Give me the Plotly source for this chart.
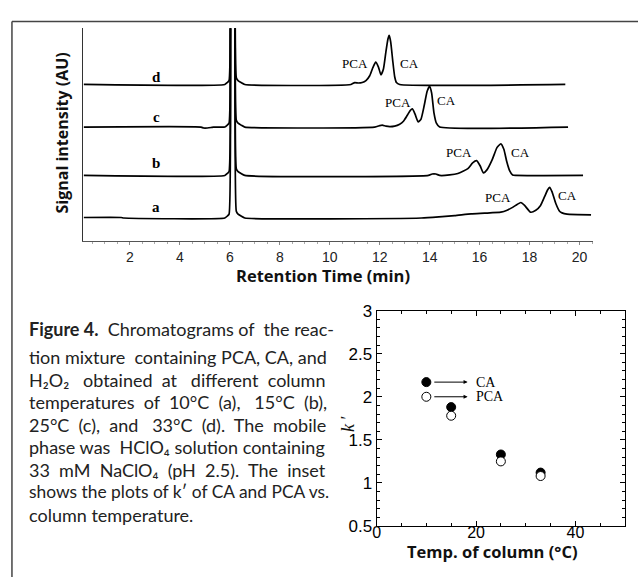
import plotly.graph_objects as go

W, H = 638, 587

# ---------------- data: chromatograms (retention time in min, signal in AU, offset stacked) ----
a_x = [0.15, 1.65, 1.75, 5.80, 5.90, 5.97, 6.03, 6.08, 6.16, 6.21, 6.26, 6.33, 6.45, 6.60,
       13.67, 14.5, 15.0, 15.66, 16.2, 16.85, 17.1, 17.32, 17.5, 17.65, 17.8, 18.04, 18.25,
       18.44, 18.6, 18.72, 18.8, 18.9, 19.05, 19.2, 19.3, 19.5, 20.46]
a_y = [23.5, 23.5, 23, 23, 25, 27, 250, 300, 300, 250, 30, 27, 25, 23,
       23, 24.5, 25.5, 27.3, 28, 29, 31, 34, 37, 39, 36, 29, 31,
       36, 45, 52, 54.7, 50, 38, 30, 28.3, 27, 26.3]

b_x = [0.15, 5.80, 5.90, 5.97, 6.03, 6.08, 6.16, 6.21, 6.26, 6.33, 6.45, 6.60,
       13.95, 14.1, 14.25, 14.4, 14.8, 15.13, 15.53, 15.72, 15.88, 16.02, 16.15, 16.3,
       16.5, 16.7, 16.85, 16.97, 17.08, 17.2, 17.32, 17.45, 20.14]
b_y = [67, 67, 69, 71, 250, 300, 300, 250, 74, 71, 69, 67,
       67, 68.5, 68.5, 67, 67.5, 69, 74, 80, 82.3, 77, 69.7, 73,
       83, 96, 99.7, 94, 82, 72, 67.5, 67, 67]

c_x = [0.15, 4.85, 4.95, 5.1, 5.25, 5.35, 5.80, 5.90, 5.97, 6.03, 6.08, 6.16, 6.21, 6.26,
       6.33, 6.45, 6.60, 11.8, 12.0, 12.1, 12.25, 12.4, 12.6, 12.8, 12.95, 13.1, 13.22,
       13.31, 13.42, 13.54, 13.65, 13.78, 13.9, 14.0, 14.08, 14.17, 14.27, 14.4, 19.54]
c_y = [117, 117, 116, 116, 116.5, 117, 117, 119, 121, 250, 300, 300, 250, 124,
       121, 119, 117, 117, 118.5, 119, 118, 117.5, 118, 120, 123, 129, 134,
       135.7, 130, 122.3, 125, 139, 154, 159, 152, 132, 121, 117, 117]

d_x = [0.15, 5.80, 5.90, 5.97, 6.03, 6.08, 6.16, 6.21, 6.26, 6.33, 6.45, 6.60,
       10.85, 11.0, 11.15, 11.3, 11.45, 11.6, 11.72, 11.84, 11.95, 12.05, 12.15, 12.25,
       12.33, 12.38, 12.44, 12.52, 12.6, 12.67, 12.8, 19.43]
d_y = [161, 161, 163, 165, 250, 300, 300, 250, 168, 165, 163, 161,
       161, 163, 162.5, 163, 165, 170, 178, 184, 179, 171, 177, 195,
       208, 211.7, 205, 186, 169, 163, 161, 161]

trace_names = ["a", "b", "c", "d"]
trace_label_x = [3.05, 3.05, 3.05, 3.05]
trace_label_y = [34, 80, 127, 169]

peak_labels = ["PCA", "CA", "PCA", "CA", "PCA", "CA", "PCA", "CA"]
peak_label_x = [16.72, 19.5, 15.18, 17.62, 12.74, 14.69, 11.0, 13.19]
peak_label_y = [44, 46, 91, 91, 142.5, 144, 182.5, 182.5]

x_ticks = [2, 4, 6, 8, 10, 12, 14, 16, 18, 20]

# ---------------- data: inset (k' vs column temperature) ----------------
temps = [10, 15, 25, 33]
k_ca = [2.17, 1.88, 1.33, 1.12]
k_pca = [2.00, 1.78, 1.25, 1.08]

caption_lines = [
    "<b>Figure 4.</b> Chromatograms of the reac-",
    "tion mixture containing PCA, CA, and",
    "H₂O₂ obtained at different column",
    "temperatures of 10°C (a), 15°C (b),",
    "25°C (c), and 33°C (d). The mobile",
    "phase was HClO₄ solution containing",
    "33 mM NaClO₄ (pH 2.5). The inset",
    "shows the plots of k′ of CA and PCA vs.",
    "column temperature.",
]
# extra non-breaking spaces per word gap (to imitate the justified text)
caption_extra = [
    [0, 1, 0, 1, 0],
    [0, 1, 0, 0, 0],
    [2, 1, 2, 1],
    [1, 1, 1, 2, 1],
    [1, 1, 2, 1, 1, 1],
    [0, 1, 0, 0],
    [1, 1, 1, 1, 1, 1],
    [0, 0, 0, 0, 0, 0, 0, 0],
    [0],
]
caption_sizes = [18, 18, 18, 18, 18, 18, 18, 17.4, 18]


def justify(line, extra):
    words = line.split(" ")
    out = words[0]
    for i, w in enumerate(words[1:]):
        n = extra[i] if i < len(extra) else 0
        out += " " + "\u00a0" * n + w
    return out


def px(x):
    return x / W


def py(y):
    return 1 - y / H


fig = go.Figure()

for nm, xs, ys in zip(trace_names, [a_x, b_x, c_x, d_x], [a_y, b_y, c_y, d_y]):
    fig.add_trace(go.Scatter(x=xs, y=ys, mode="lines", name=nm,
                             line=dict(color="black", width=1.7, shape="spline", smoothing=0.5),
                             xaxis="x", yaxis="y", showlegend=False, hoverinfo="skip"))

fig.add_trace(go.Scatter(x=temps, y=k_ca, mode="markers", name="CA",
                         marker=dict(size=9, color="black", line=dict(color="black", width=1)),
                         xaxis="x2", yaxis="y2", showlegend=False))
fig.add_trace(go.Scatter(x=temps, y=k_pca, mode="markers", name="PCA",
                         marker=dict(size=9, color="white", line=dict(color="black", width=1)),
                         xaxis="x2", yaxis="y2", showlegend=False))

ann = []
serif = "Liberation Serif, Times New Roman, serif"
sans = "Liberation Sans, Arial, sans-serif"
cap_font = "Lato, Open Sans, sans-serif"
title_font = "Open Sans, Lato, sans-serif"

for t, x, y in zip(trace_names, trace_label_x, trace_label_y):
    ann.append(dict(x=x, y=y, xref="x", yref="y", text="<b>%s</b>" % t, showarrow=False,
                    xanchor="center", yanchor="middle",
                    font=dict(family=serif, size=15, color="black")))
for t, x, y in zip(peak_labels, peak_label_x, peak_label_y):
    ann.append(dict(x=x, y=y, xref="x", yref="y", text=t, showarrow=False,
                    xanchor="center", yanchor="middle",
                    font=dict(family=serif, size=13, color="black")))

# axis titles for main chart
ann.append(dict(x=px(321), y=py(275), xref="paper", yref="paper", text="<b>Retention Time (min)</b>",
                showarrow=False, xanchor="center", yanchor="middle",
                font=dict(family=title_font, size=16.5, color="#111")))
ann.append(dict(x=px(58), y=py(128), xref="paper", yref="paper", text="<b>Signal intensity (AU)</b>",
                showarrow=False, textangle=-90, xanchor="center", yanchor="middle",
                font=dict(family=title_font, size=16, color="#111")))

# inset titles
ann.append(dict(x=px(492), y=py(561), xref="paper", yref="paper", text="<b>Temp. of column (°C)</b>",
                showarrow=False, xanchor="center", yanchor="middle",
                font=dict(family=title_font, size=16.5, color="#111")))
ann.append(dict(x=px(346), y=py(428), xref="paper", yref="paper", text="<i>k</i> ′",
                showarrow=False, textangle=-90, xanchor="center", yanchor="middle",
                font=dict(family=serif, size=18, color="#111")))

# inset arrows
for lab, kv in [("CA", k_ca[0]), ("PCA", k_pca[0])]:
    ann.append(dict(x=18.3, y=kv, ax=11.3, ay=kv, xref="x2", yref="y2", axref="x2", ayref="y2",
                    text="", showarrow=True, arrowhead=2, arrowsize=0.8, arrowwidth=1,
                    arrowcolor="black"))
    ann.append(dict(x=19.6, y=kv, xref="x2", yref="y2", text=lab, showarrow=False,
                    xanchor="left", yanchor="middle",
                    font=dict(family=serif, size=14, color="black")))

# caption
cap_centers = [329, 358, 381.5, 404.8, 428, 451.3, 474.6, 497.9, 521.2]
for line, ex, sz, cy in zip(caption_lines, caption_extra, caption_sizes, cap_centers):
    ann.append(dict(x=px(23), y=py(cy - 12), xref="paper", yref="paper", text=justify(line, ex),
                    showarrow=False, xanchor="left", yanchor="top",
                    font=dict(family=cap_font, size=sz, color="#222")))

shapes = [
    dict(type="line", xref="paper", yref="paper", x0=px(8), x1=1, y0=py(13), y1=py(13),
         line=dict(color="#444", width=1.5)),
    dict(type="line", xref="paper", yref="paper", x0=px(8), x1=px(8), y0=py(13), y1=0,
         line=dict(color="#444", width=1.5)),
]

fig.update_layout(
    width=W, height=H, margin=dict(l=0, r=0, t=0, b=0),
    paper_bgcolor="white", plot_bgcolor="white",
    annotations=ann, shapes=shapes,
    xaxis=dict(domain=[px(80), px(593)], range=[0.143, 20.55], anchor="y",
               showline=True, linecolor="#555", linewidth=1, showgrid=False, zeroline=False,
               tickvals=x_ticks, ticks="outside", ticklen=3, tickcolor="#888",
               tickfont=dict(family=sans, size=14, color="#222"),
               minor=dict(dtick=0.5, ticks="outside", ticklen=2, tickcolor="#aaa")),
    yaxis=dict(domain=[py(240), py(20)], range=[-1, 219], anchor="x",
               showline=True, linecolor="#333", linewidth=1, showgrid=False, zeroline=False,
               showticklabels=False, ticks=""),
    xaxis2=dict(domain=[px(375), px(625)], range=[0, 50], anchor="y2",
                showline=True, mirror="allticks", linecolor="black", linewidth=1,
                showgrid=False, zeroline=False, dtick=20, tick0=0, ticks="inside", ticklen=5,
                tickcolor="black", tickfont=dict(family=sans, size=16, color="black"),
                ticklabelstandoff=-8,
                minor=dict(dtick=5, ticks="inside", ticklen=3, tickcolor="black")),
    yaxis2=dict(domain=[py(534.3), py(311.7)], range=[0.5, 3], anchor="x2",
                showline=True, mirror="allticks", linecolor="black", linewidth=1,
                showgrid=False, zeroline=False, dtick=0.5, tick0=0.5, ticks="inside", ticklen=5,
                tickcolor="black", tickfont=dict(family=sans, size=17, color="black"),
                minor=dict(dtick=0.1, ticks="inside", ticklen=3, tickcolor="black")),
)

fig.write_html("out.html")
